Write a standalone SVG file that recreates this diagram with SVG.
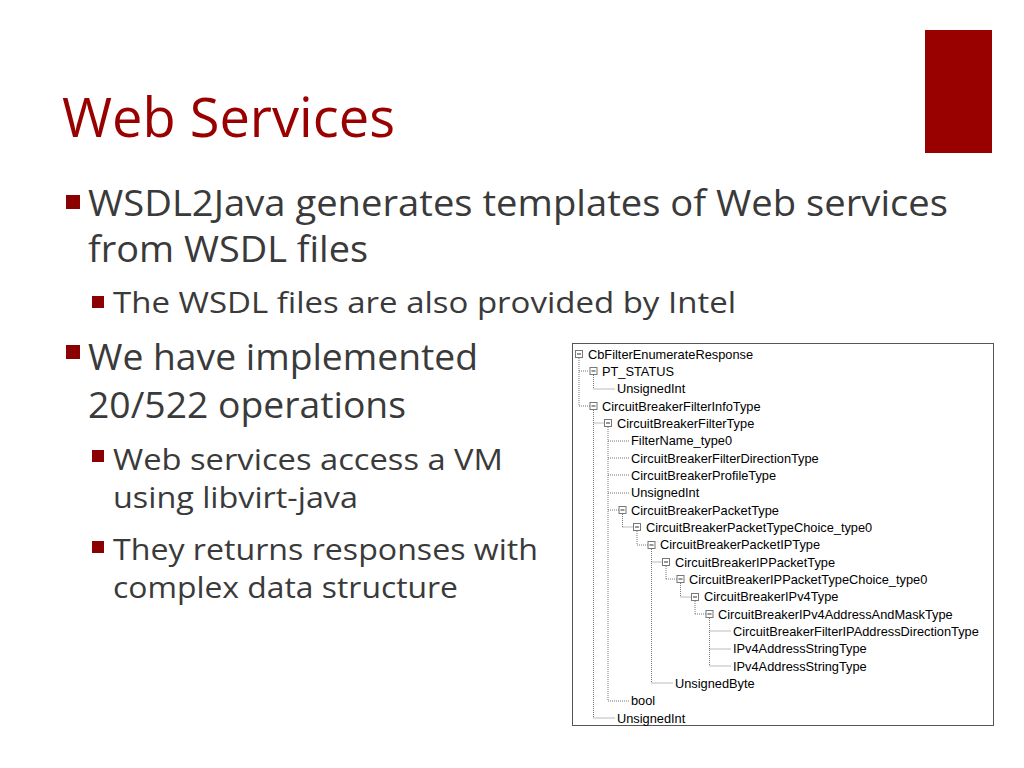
<svg xmlns="http://www.w3.org/2000/svg" width="1024" height="768" viewBox="0 0 1024 768">
<style>
.t{font-family:"Open Sans","Liberation Sans",sans-serif;fill:#3a3a3a}
.b{font-size:36px}.s{font-size:30px}
.n{font-family:"Liberation Sans",Arial,sans-serif;font-size:12.8px;fill:#000}
.d{stroke:#777;stroke-width:1;stroke-dasharray:1,1;fill:none}
.bx{fill:#fff;stroke:#777;stroke-width:1}
</style>
<defs>
<g id="box"><rect class="bx" x="-3.5" y="-3.5" width="7" height="7"/><path d="M-2,0H2" stroke="#333"/></g>
</defs>
<rect width="1024" height="768" fill="#fff"/>
<rect x="925" y="30" width="67" height="123" fill="#990000"/>
<text x="62" y="137" font-family="Open Sans, Liberation Sans, sans-serif" font-size="54" fill="#990000" textLength="333" lengthAdjust="spacingAndGlyphs">Web Services</text>
<g fill="#8b0000">
<rect x="66" y="195" width="14" height="14"/><rect x="66" y="345" width="14" height="14"/>
<rect x="92" y="296" width="12" height="12"/><rect x="92" y="450" width="12" height="12"/><rect x="92" y="541" width="12" height="12"/>
</g>
<text class="t b" x="88" y="216" textLength="860" lengthAdjust="spacingAndGlyphs">WSDL2Java generates templates of Web services</text>
<text class="t b" x="88" y="262" textLength="280" lengthAdjust="spacingAndGlyphs">from WSDL files</text>
<text class="t s" x="113" y="313" textLength="623" lengthAdjust="spacingAndGlyphs">The WSDL files are also provided by Intel</text>
<text class="t b" x="88" y="370" textLength="390" lengthAdjust="spacingAndGlyphs">We have implemented</text>
<text class="t b" x="88" y="418" textLength="318" lengthAdjust="spacingAndGlyphs">20/522 operations</text>
<text class="t s" x="113" y="470" textLength="390" lengthAdjust="spacingAndGlyphs">Web services access a VM</text>
<text class="t s" x="113" y="508" textLength="245" lengthAdjust="spacingAndGlyphs">using libvirt-java</text>
<text class="t s" x="113" y="560" textLength="425" lengthAdjust="spacingAndGlyphs">They returns responses with</text>
<text class="t s" x="113" y="598" textLength="345" lengthAdjust="spacingAndGlyphs">complex data structure</text>
<rect x="572.5" y="343.5" width="421" height="382" fill="#fff" stroke="#555"/>
<g id="connectors">
<path class="d" d="M579,354V406 M593.5,371V389 M593.5,406V718 M608,423V701 M622.5,510V527 M637,527V545 M651.5,545V683 M666,562V579 M680.5,579V597 M695,597V614 M709.5,614V666
M579,371H588 M593.5,389H615 M579,406H590 M593.5,423H604 M608,441H629 M608,458H629 M608,475H629 M608,493H629 M608,510H619 M622.5,527H633 M637,545H648 M651.5,562H662 M666,579H677 M680.5,597H691 M695,614H706 M709.5,631H731 M709.5,649H731 M709.5,666H731 M651.5,683H673 M608,701H629 M593.5,718H615"/>
</g>
<g id="nodes">
<use href="#box" x="579" y="354"/><use href="#box" x="593.5" y="371"/><use href="#box" x="593.5" y="406"/><use href="#box" x="608" y="423"/><use href="#box" x="622.5" y="510"/><use href="#box" x="637" y="527"/><use href="#box" x="651.5" y="545"/><use href="#box" x="666" y="562"/><use href="#box" x="680.5" y="579"/><use href="#box" x="695" y="597"/><use href="#box" x="709.5" y="614"/>
<text class="n" x="588" y="358.5">CbFilterEnumerateResponse</text>
<text class="n" x="602" y="375.5">PT_STATUS</text>
<text class="n" x="617" y="393">UnsignedInt</text>
<text class="n" x="602" y="410.5">CircuitBreakerFilterInfoType</text>
<text class="n" x="617" y="427.5">CircuitBreakerFilterType</text>
<text class="n" x="631" y="445">FilterName_type0</text>
<text class="n" x="631" y="462.5">CircuitBreakerFilterDirectionType</text>
<text class="n" x="631" y="479.5">CircuitBreakerProfileType</text>
<text class="n" x="631" y="497">UnsignedInt</text>
<text class="n" x="631" y="514.5">CircuitBreakerPacketType</text>
<text class="n" x="646" y="531.5">CircuitBreakerPacketTypeChoice_type0</text>
<text class="n" x="660" y="549">CircuitBreakerPacketIPType</text>
<text class="n" x="675" y="566.5">CircuitBreakerIPPacketType</text>
<text class="n" x="689" y="583.5">CircuitBreakerIPPacketTypeChoice_type0</text>
<text class="n" x="704" y="601">CircuitBreakerIPv4Type</text>
<text class="n" x="718" y="618.5">CircuitBreakerIPv4AddressAndMaskType</text>
<text class="n" x="733" y="635.5">CircuitBreakerFilterIPAddressDirectionType</text>
<text class="n" x="733" y="653">IPv4AddressStringType</text>
<text class="n" x="733" y="670.5">IPv4AddressStringType</text>
<text class="n" x="675" y="687.5">UnsignedByte</text>
<text class="n" x="631" y="705">bool</text>
<text class="n" x="617" y="722.5">UnsignedInt</text>
</g>
</svg>
